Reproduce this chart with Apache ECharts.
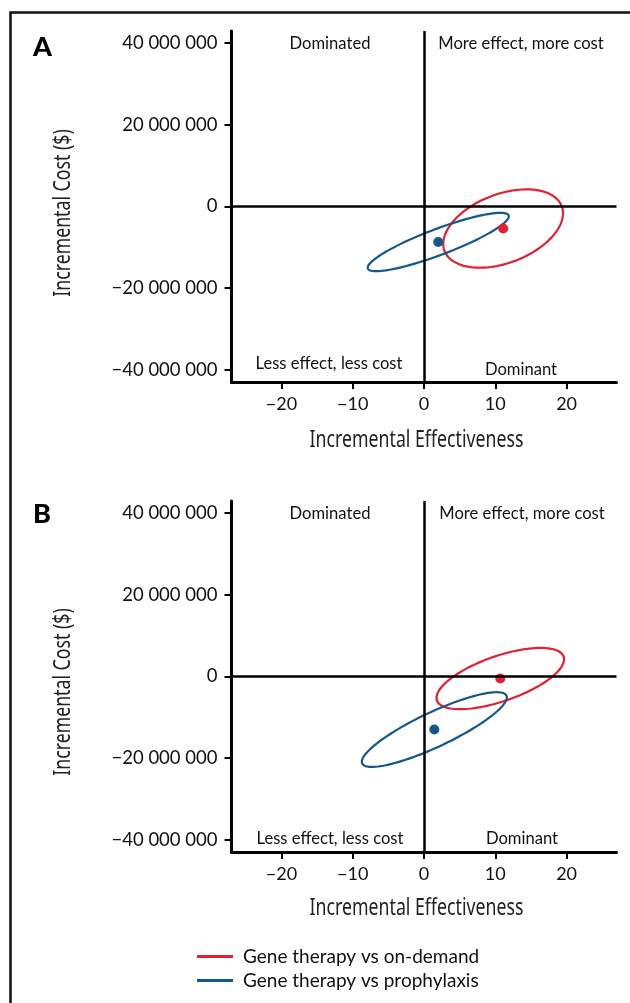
<!DOCTYPE html>
<html>
<head>
    <meta charset="utf-8">
    <title>Cost-effectiveness plane</title>
    <script src="https://cdn.jsdelivr.net/npm/echarts@6/dist/echarts.min.js"></script>
    <style>
        html, body { margin: 0; padding: 0; background: #fff; }
        #chart { width: 630px; height: 1003px; }
    </style>
</head>
<body>
    <div id="chart"></div>
    <script>
        // series (comparisons)
        const seriesNames = ['Gene therapy vs on-demand', 'Gene therapy vs prophylaxis'];
        const seriesColors = ['#e2202f', '#14578c'];

        // panel A: mean incremental effectiveness / cost, ellipse half-widths and correlation
        const meanEffA = [11.1, 2.0];
        const meanCostA = [-5.4e6, -8.7e6];
        const halfEffA = [8.4, 9.9];
        const halfCostA = [9.6e6, 7.15e6];
        const corrA = [0.39, 0.88];

        // panel B
        const meanEffB = [10.7, 1.45];
        const meanCostB = [-0.5e6, -13.0e6];
        const halfEffB = [8.95, 10.17];
        const halfCostB = [7.5e6, 9.15e6];
        const corrB = [0.63, 0.86];

        // axes
        const xTicks = [-20, -10, 0, 10, 20];
        const yTicks = [-40e6, -20e6, 0, 20e6, 40e6];
        const xRange = [-27, 27];
        const yRange = [-43e6, 43e6];
        const xTitle = 'Incremental Effectiveness';
        const yTitle = 'Incremental Cost ($)';

        const labelFont = 'Lato, "Noto Sans", sans-serif';
        const titleFont = '"Noto Sans", "Open Sans", sans-serif';

        const chart = echarts.init(document.getElementById('chart'));

        function fmtCost(v) {
            const s = Math.abs(v).toString().replace(/\B(?=(\d{3})+(?!\d))/g, ' ');
            return (v < 0 ? '\u2212' : '') + s;
        }
        function fmtEff(v) {
            return (v < 0 ? '\u2212' : '') + Math.abs(v);
        }

        function makeX(gi) {
            return {
                type: 'value', gridIndex: gi, min: xRange[0], max: xRange[1],
                axisLine: { onZero: false, lineStyle: { color: '#000', width: 3 } },
                axisTick: { show: true, length: 7, customValues: xTicks, lineStyle: { color: '#000', width: 2 } },
                axisLabel: { customValues: xTicks, formatter: fmtEff, margin: 13, fontFamily: labelFont, fontSize: 18, color: '#111' },
                splitLine: { show: false }
            };
        }
        function makeY(gi) {
            return {
                type: 'value', gridIndex: gi, min: yRange[0], max: yRange[1],
                axisLine: { onZero: false, lineStyle: { color: '#000', width: 3 } },
                axisTick: { show: true, length: 7, customValues: yTicks, lineStyle: { color: '#000', width: 2 } },
                axisLabel: { customValues: yTicks, formatter: fmtCost, margin: 14, fontFamily: labelFont, fontSize: 18.5, color: '#111' },
                splitLine: { show: false }
            };
        }

        function ellipseItem(params, api) {
            const cx = api.value(0), cy = api.value(1);
            const rx = api.value(2), ry = api.value(3);
            const phase = Math.acos(api.value(4));
            const pts = [];
            for (let i = 0; i < 120; i++) {
                const t = i / 120 * Math.PI * 2;
                pts.push(api.coord([cx + rx * Math.cos(t), cy + ry * Math.cos(t - phase)]));
            }
            return {
                type: 'polygon',
                shape: { points: pts },
                style: { fill: 'none', stroke: api.visual('color'), lineWidth: 2.2 }
            };
        }

        const panels = [
            [meanEffA, meanCostA, halfEffA, halfCostA, corrA],
            [meanEffB, meanCostB, halfEffB, halfCostB, corrB]
        ];
        const series = [];
        panels.forEach((p, gi) => {
            seriesNames.forEach((name, si) => {
                series.push({
                    name: name, type: 'custom', xAxisIndex: gi, yAxisIndex: gi,
                    renderItem: ellipseItem, itemStyle: { color: seriesColors[si] },
                    encode: { x: 0, y: 1 }, z: 3, silent: true,
                    data: [[p[0][si], p[1][si], p[2][si], p[3][si], p[4][si]]]
                });
                series.push({
                    name: name, type: 'scatter', xAxisIndex: gi, yAxisIndex: gi,
                    symbolSize: 10, itemStyle: { color: seriesColors[si], opacity: 1 }, z: 4,
                    data: [[p[0][si], p[1][si]]],
                    markLine: si === 0 ? {
                        silent: true, symbol: 'none', label: { show: false },
                        lineStyle: { color: '#000', width: 2.5, type: 'solid' },
                        data: [{ xAxis: 0 }, { yAxis: 0 }]
                    } : undefined
                });
            });
        });

        function quadText(text, x, y) {
            return {
                type: 'text', x: x, y: y,
                style: { text: text, fontFamily: labelFont, fontSize: 16.6, fill: '#111', align: 'center', verticalAlign: 'middle' }
            };
        }
        function titleText(text, x, y, vertical) {
            return {
                type: 'text', x: x, y: y, scaleX: 0.77, rotation: vertical ? Math.PI / 2 : 0,
                style: { text: text, fontFamily: titleFont, fontSize: 23, fill: '#222', align: 'center', verticalAlign: 'middle' }
            };
        }

        chart.setOption({
            animation: false,
            grid: [
                { left: 231.5, top: 31, width: 385, height: 351 },
                { left: 231.5, top: 501, width: 385, height: 351 }
            ],
            xAxis: [makeX(0), makeX(1)],
            yAxis: [makeY(0), makeY(1)],
            legend: {
                orient: 'vertical', left: 192, top: 942,
                itemWidth: 36, itemHeight: 3, itemGap: 5, icon: 'rect',
                textStyle: { fontFamily: labelFont, fontSize: 19, lineHeight: 19, color: '#111', padding: [0, 0, 0, 5] },
                data: seriesNames.map((n, i) => ({ name: n, itemStyle: { color: seriesColors[i] } }))
            },
            graphic: [
                { type: 'rect', shape: { x: 10.5, y: 12.5, width: 700, height: 1100 }, style: { fill: 'none', stroke: '#111', lineWidth: 2.5 } },
                { type: 'text', x: 33, y: 47, style: { text: 'A', fontFamily: labelFont, fontWeight: 900, fontSize: 27, fill: '#000', verticalAlign: 'middle' } },
                { type: 'text', x: 33, y: 514, style: { text: 'B', fontFamily: labelFont, fontWeight: 900, fontSize: 27, fill: '#000', verticalAlign: 'middle' } },
                quadText('Dominated', 330, 44),
                quadText('More effect, more cost', 521, 44),
                quadText('Less effect, less cost', 329, 364),
                quadText('Dominant', 521, 370),
                quadText('Dominated', 330, 514),
                quadText('More effect, more cost', 522, 514),
                quadText('Less effect, less cost', 330, 839),
                quadText('Dominant', 522, 839),
                titleText(xTitle, 416.5, 440, false),
                titleText(xTitle, 416.5, 908, false),
                titleText(yTitle, 63, 213, true),
                titleText(yTitle, 63, 692, true)
            ],
            series: series
        });

        window.addEventListener('resize', function () {
            chart.resize();
        });
    </script>
</body>
</html>
